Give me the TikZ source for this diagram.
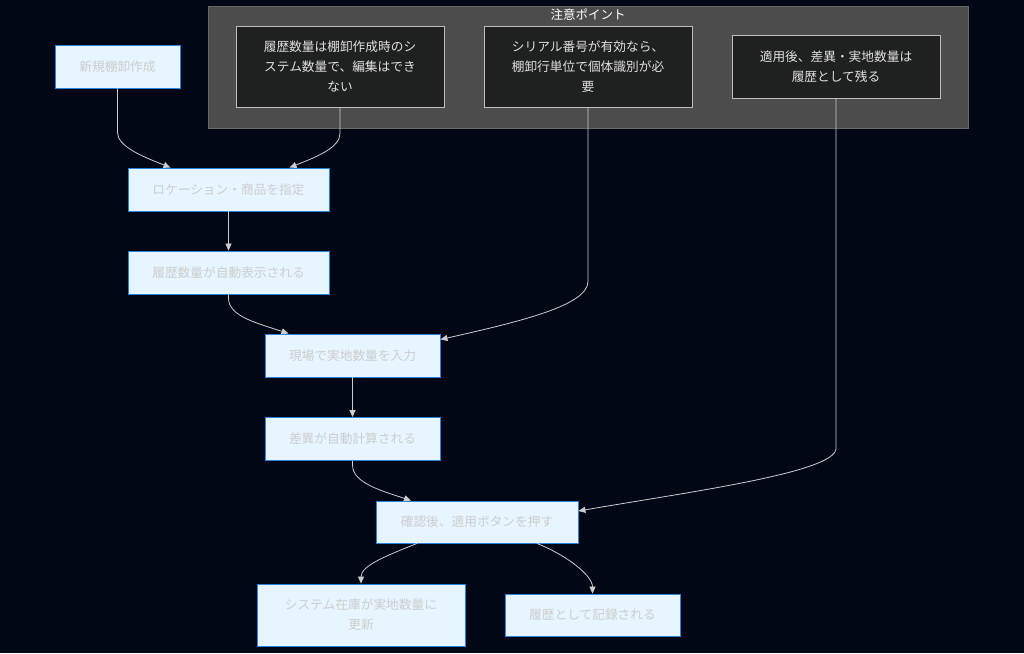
\documentclass[tikz,border=0pt]{standalone}
\usepackage{fontspec}
\newfontfamily\jpfont{Noto Sans CJK JP}
\usetikzlibrary{arrows.meta, positioning, backgrounds}
\definecolor{bgnavy}{RGB}{2,7,22}
\definecolor{flowfill}{RGB}{230,245,255}
\definecolor{flowline}{RGB}{40,130,225}
\definecolor{flowtext}{RGB}{205,205,205}
\definecolor{notefill}{RGB}{31,32,32}
\definecolor{noteline}{RGB}{190,190,190}
\definecolor{clusterfill}{RGB}{76,76,76}
\definecolor{edgegray}{RGB}{205,205,205}

\begin{document}
\begin{tikzpicture}[
    x=1pt, y=1pt,
    flow_box/.style={rectangle, draw=flowline, line width=0.9pt, fill=flowfill, text=flowtext, minimum height=43pt, align=center, font=\jpfont\fontsize{12.7}{20}\selectfont},
    note_box/.style={rectangle, draw=noteline, line width=0.8pt, fill=notefill, text=white!88!black, minimum width=208pt, align=center, font=\jpfont\fontsize{12.7}{20}\selectfont},
    cluster_style/.style={rectangle, draw=clusterfill!85!white, fill=clusterfill, minimum width=760pt, minimum height=122pt},
    edge_style/.style={draw=edgegray, line width=0.8pt, -{Triangle[length=7pt, width=6pt]}}
]

% Canvas
\fill[bgnavy] (0,0) rectangle (1024,-653);

% Cluster of notes
\node[cluster_style] (notes) at (588,-67) {};
\node[font=\jpfont\fontsize{12.5}{15}\selectfont, text=white] (notes_title) at (588,-15) {注意ポイント};
\node[note_box, minimum height=81pt] (note_hist) at (340,-66.5) {履歴数量は棚卸作成時のシ\\ステム数量で、編集はでき\\ない};
\node[note_box, minimum height=81pt] (note_serial) at (588,-66.5) {シリアル番号が有効なら、\\棚卸行単位で個体識別が必\\要};
\node[note_box, minimum height=63pt] (note_apply) at (836,-66.5) {適用後、差異・実地数量は\\履歴として残る};

% Flow
\node[flow_box, minimum width=125pt] (new_inv) at (117.5,-66.5) {新規棚卸作成};
\node[flow_box, minimum width=201pt] (set_loc) at (228.5,-189.5) {ロケーション・商品を指定};
\node[flow_box, minimum width=201pt] (show_hist) at (228.5,-272.5) {履歴数量が自動表示される};
\node[flow_box, minimum width=175pt] (input_qty) at (352.5,-355.5) {現場で実地数量を入力};
\node[flow_box, minimum width=175pt] (calc_diff) at (352.5,-439) {差異が自動計算される};
\node[flow_box, minimum width=202pt, minimum height=42pt] (press_apply) at (477,-522) {確認後、適用ボタンを押す};
\node[flow_box, minimum width=208pt, minimum height=62pt] (update_stock) at (361,-615) {システム在庫が実地数量に\\更新};
\node[flow_box, minimum width=175pt, minimum height=42pt] (record_hist) at (592.5,-615) {履歴として記録される};

% Edges
\draw[edge_style] (new_inv.south) -- ++(0,-44) .. controls +(0,-14) and +(-28,11) .. ([xshift=-58pt]set_loc.north);
\draw[edge_style] (note_hist.south) -- ++(0,-26) .. controls +(0,-14) and +(28,11) .. ([xshift=61pt]set_loc.north);
\draw[edge_style] (set_loc) -- (show_hist);
\draw[edge_style] (show_hist.south) -- ++(0,-4) .. controls +(0,-18) and +(-30,10) .. ([xshift=-64pt]input_qty.north);
\draw[edge_style] (note_serial.south) -- ++(0,-174) .. controls +(0,-24) and +(80,18) .. ([yshift=16pt]input_qty.east);
\draw[edge_style] (input_qty) -- (calc_diff);
\draw[edge_style] (calc_diff.south) -- ++(0,-4) .. controls +(0,-18) and +(-30,10) .. ([xshift=-66pt]press_apply.north);
\draw[edge_style] (note_apply.south) -- ++(0,-350) .. controls +(0,-24) and +(110,19) .. ([yshift=11pt]press_apply.east);
\draw[edge_style] ([xshift=-60pt]press_apply.south) .. controls +(-30,-12) and +(0,18) .. (update_stock.north);
\draw[edge_style] ([xshift=60pt]press_apply.south) .. controls +(30,-12) and +(0,18) .. (record_hist.north);

\end{tikzpicture}
\end{document}
